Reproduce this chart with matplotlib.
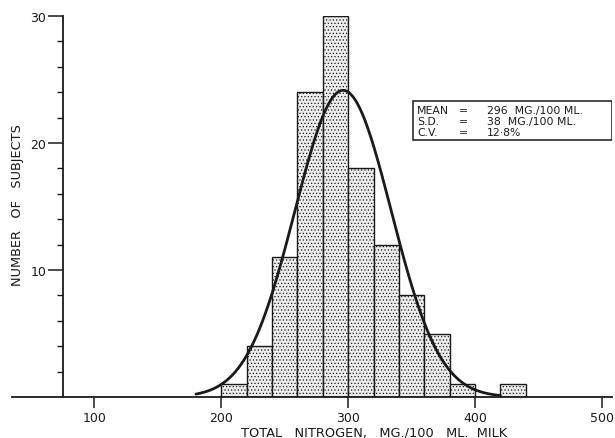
import matplotlib.pyplot as plt
from matplotlib.patches import Rectangle
import numpy as np

# histogram classes (mg/100 ml) and number of subjects
bin_left = [200, 220, 240, 260, 280, 300, 320, 340, 360, 380, 420]
counts = [1, 4, 11, 24, 30, 18, 12, 8, 5, 1, 1]
bin_width = 20

# stated statistics for fitted normal curve
mean_n = 296
sd_n = 38
curve_from, curve_to = 180, 420

x_ticks = [100, 200, 300, 400, 500]
y_major = [10, 20, 30]
y_minor = [2, 4, 6, 8, 12, 14, 16, 18, 22, 24, 26, 28]

stat_names = ['MEAN', 'S.D.', 'C.V.']
stat_values = ['296  MG./100 ML.', '38  MG./100 ML.', '12·8%']

ink = '#1a1a1a'
plt.rcParams['hatch.color'] = '#8c8c8c'
plt.rcParams['hatch.linewidth'] = 0.5

fig = plt.figure(figsize=(6.15, 4.39), dpi=100)
ax = fig.add_axes([12 / 615, 1 - 398 / 439, 600 / 615, (398 - 17) / 439])

ax.bar(bin_left, counts, width=bin_width, align='edge', facecolor='#ececec',
       edgecolor=ink, linewidth=1.0, hatch='.....')

n_total = sum(counts)
xc = np.linspace(curve_from, curve_to, 300)
yc = n_total * bin_width / (sd_n * np.sqrt(2 * np.pi)) * np.exp(-0.5 * ((xc - mean_n) / sd_n) ** 2)
ax.plot(xc, yc, color=ink, lw=2.0, solid_capstyle='round')

ax.set_xlim(35, 508)
ax.set_ylim(0, 30)

ax.spines['top'].set_visible(False)
ax.spines['right'].set_visible(False)
ax.spines['left'].set_position(('data', 75))
ax.spines['left'].set_bounds(0, 30)
for s in ['left', 'bottom']:
    ax.spines[s].set_color(ink)
    ax.spines[s].set_linewidth(1.3)

ax.set_xticks(x_ticks)
ax.set_xticklabels([str(v) for v in x_ticks])
ax.set_yticks(y_major)
ax.set_yticklabels([str(v) for v in y_major])
ax.set_yticks(y_minor, minor=True)
ax.tick_params(axis='x', direction='out', length=8, width=1.1, color=ink,
               labelsize=9, pad=2, labelcolor=ink)
ax.tick_params(axis='y', which='major', direction='out', length=11, width=1.1,
               color=ink, labelsize=9, pad=1, labelcolor=ink)
ax.tick_params(axis='y', which='minor', direction='out', length=4, width=1.0, color=ink)

ax.set_xlabel('TOTAL   NITROGEN,   MG./100   ML.  MILK', fontsize=9.3, color=ink)
ax.xaxis.set_label_coords((374 - 12) / 600, -(433 - 398) / 381)
ax.xaxis.label.set_va('center')
ax.set_ylabel('NUMBER   OF   SUBJECTS', fontsize=9.3, color=ink)
ax.yaxis.set_label_coords((18 - 12) / 600, (398 - 205) / 381)
ax.yaxis.label.set_va('center')

# statistics box, drawn in pixel-based axes fractions
def fx(px):
    return (px - 12) / 600

def fy(py):
    return (398 - py) / 381

ax.add_patch(Rectangle((fx(413), fy(141)), fx(612) - fx(413), fy(102) - fy(141),
                       transform=ax.transAxes, facecolor='white', edgecolor=ink,
                       linewidth=1.1, zorder=5))
for i in range(len(stat_names)):
    yy = fy(111 + 11 * i)
    ax.text(fx(417), yy, stat_names[i], transform=ax.transAxes, fontsize=7.8,
            color=ink, va='center', ha='left', zorder=6)
    ax.text(fx(459), yy, '=', transform=ax.transAxes, fontsize=7.8,
            color=ink, va='center', ha='left', zorder=6)
    ax.text(fx(487), yy, stat_values[i], transform=ax.transAxes, fontsize=7.8,
            color=ink, va='center', ha='left', zorder=6)

fig.savefig('out.png', dpi=100)
